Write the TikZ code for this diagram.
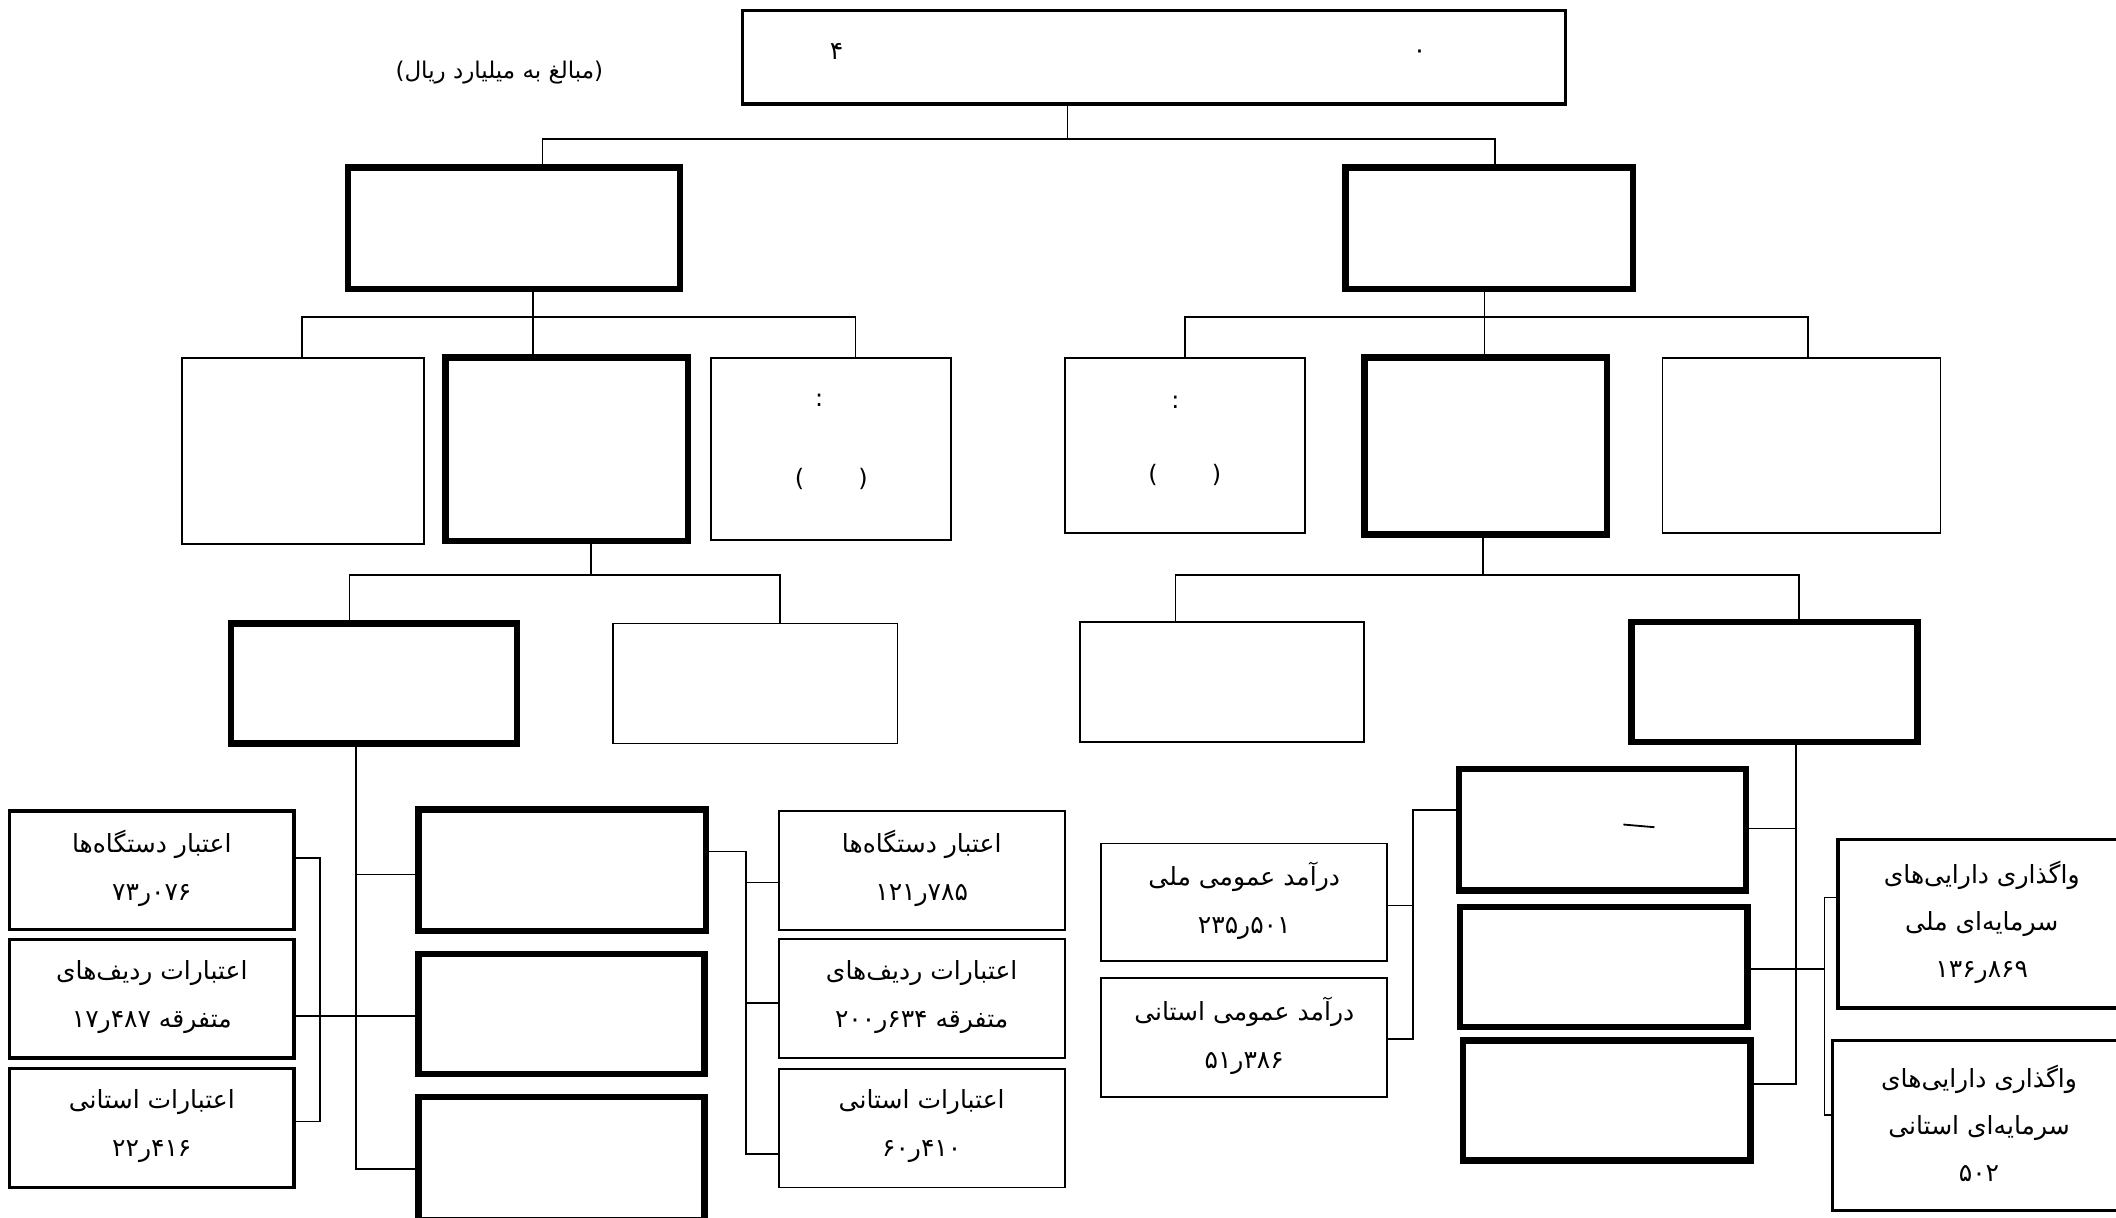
\documentclass[tikz,border=0pt]{standalone}
\usepackage{fontspec}
\usetikzlibrary{fit}
\TeXXeTstate=1
\newfontfamily\arabicfont[Script=Arabic]{DejaVu Sans}
\newfontfamily\plainsans{DejaVu Sans}
\newcommand{\pn}[2]{\beginL #1\kern0pt ر\kern0pt #2\endL}
\tikzset{
  box/.style={draw, inner sep=0pt, line width=0.9pt},
  thickbox/.style={box, line width=3.2pt},
  medbox/.style={box, line width=1.7pt},
  conn/.style={line width=0.9pt},
  txt/.style={inner sep=0pt, align=center, yshift=0.9pt,
    font=\arabicfont\fontsize{12.5}{24}\selectfont},
  lbl/.style={inner sep=0pt, font=\arabicfont\fontsize{12.5}{15}\selectfont},
  sym/.style={inner sep=0pt, font=\plainsans\fontsize{12}{15}\selectfont},
}
\begin{document}
\begin{tikzpicture}[x=0.67475pt, y=-0.67475pt]
\useasboundingbox (0,0) rectangle (1568,902);
\clip (0,0) rectangle (1568,902);

% top
\node[medbox, fit={(550,8) (1160,77)}] (top) {};
\node[lbl] (topfour) at (620,38) {۴};
\node[lbl] (topdot) at (1052,40) {۰};
\node[lbl, font=\arabicfont\fontsize{11.5}{14}\selectfont] (unit) at (370,54)
  {{\plainsans(}\beginR مبالغ به میلیارد ریال\endR{\plainsans)}};

% level 1
\node[thickbox, fit={(258,124) (504,214)}] (LA) {};
\node[thickbox, fit={(997,124) (1210,214)}] (RA) {};

% level 2 left
\node[box, fit={(135,265) (314,403)}] (L2a) {};
\node[thickbox, fit={(330,265) (510,401)}] (L2b) {};
\node[box, fit={(527,265) (705,400)}] (L2c) {};
\node[sym] (L2ccolon) at (607,297) {:};
\node[sym] (L2cpar) at (616,355) {(\hspace{27pt})};

% level 2 right
\node[box, fit={(789,265) (967,395)}] (R2a) {};
\node[sym] (R2acolon) at (871,298) {:};
\node[sym] (R2apar) at (878,352) {(\hspace{27pt})};
\node[thickbox, fit={(1011,265) (1191,396)}] (R2b) {};
\node[box, fit={(1232,265) (1438,395)}] (R2c) {};

% level 3
\node[thickbox, fit={(171,462) (383,551)}] (L3a) {};
\node[box, fit={(454,462) (665,551)}] (L3b) {};
\node[box, fit={(800,461) (1011,550)}] (R3a) {};
\node[thickbox, fit={(1209,461) (1421,550)}] (R3b) {};

% left-bottom group
\node[thickbox, fit={(310,600) (523,690)}] (F1) {};
\node[thickbox, fit={(310,707) (522,796)}] (F2) {};
\node[thickbox, fit={(310,813) (522,904)}] (F3) {};

\node[medbox, fit={(7,601) (218,689)}] (LL1) {};
\node[txt] (LL1t) at (LL1.center) {\beginR اعتبار دستگاه‌ها\endR\\ \pn{۷۳}{۰۷۶}};
\node[medbox, fit={(7,696) (218,784)}] (LL2) {};
\node[txt] (LL2t) at (LL2.center) {\beginR اعتبارات ردیف‌های\endR\\ \beginR متفرقه \pn{۱۷}{۴۸۷}\endR};
\node[medbox, fit={(7,792) (218,880)}] (LL3) {};
\node[txt] (LL3t) at (LL3.center) {\beginR اعتبارات استانی\endR\\ \pn{۲۲}{۴۱۶}};

\node[box, fit={(577,601) (789,689)}] (RL1) {};
\node[txt] (RL1t) at (RL1.center) {\beginR اعتبار دستگاه‌ها\endR\\ \pn{۱۲۱}{۷۸۵}};
\node[box, fit={(577,696) (789,784)}] (RL2) {};
\node[txt] (RL2t) at (RL2.center) {\beginR اعتبارات ردیف‌های\endR\\ \beginR متفرقه \pn{۲۰۰}{۶۳۴}\endR};
\node[box, fit={(577,792) (789,880)}] (RL3) {};
\node[txt] (RL3t) at (RL3.center) {\beginR اعتبارات استانی\endR\\ \pn{۶۰}{۴۱۰}};

% right-bottom group
\node[thickbox, fit={(1081,570) (1294,660)}] (M1) {};
\node[thickbox, fit={(1082,672) (1295,761)}] (M2) {};
\node[thickbox, fit={(1084,771) (1297,860)}] (M3) {};

\node[box, fit={(816,625) (1028,712)}] (N1) {};
\node[txt] (N1t) at (N1.center) {\beginR درآمد عمومی ملی\endR\\ \pn{۲۳۵}{۵۰۱}};
\node[box, fit={(816,725) (1028,813)}] (N2) {};
\node[txt] (N2t) at (N2.center) {\beginR درآمد عمومی استانی\endR\\ \pn{۵۱}{۳۸۶}};

\node[medbox, fit={(1362,622) (1575,747)}] (P1) {};
\node[txt, font=\arabicfont\fontsize{12.5}{23.5}\selectfont] (P1t) at (P1.center)
  {\beginR واگذاری دارایی‌های\endR\\ \beginR سرمایه‌ای ملی\endR\\ \pn{۱۳۶}{۸۶۹}};
\node[medbox, fit={(1358,771) (1575,897)}] (P2) {};
\node[txt, font=\arabicfont\fontsize{12.5}{23.5}\selectfont] (P2t) at (P2.center)
  {\beginR واگذاری دارایی‌های\endR\\ \beginR سرمایه‌ای استانی\endR\\ ۵۰۲};

\draw[line width=0.9pt] (1203,611) -- (1226,613);

% ---------- connectors
% top
\coordinate (jt) at (791,103);
\coordinate (jtl) at (402,103);
\coordinate (jtr) at (1108,103);
\draw[conn] (top.south -| jt) -- (jt);
\draw[conn] (LA.north -| jtl) -- (jtl) -- (jtr) -- (RA.north -| jtr);

% left level 2
\coordinate (jl) at (395,235);
\coordinate (jll) at (224,235);
\coordinate (jlr) at (634,235);
\draw[conn] (LA.south -| jl) -- (L2b.north -| jl);
\draw[conn] (L2a.north -| jll) -- (jll) -- (jlr) -- (L2c.north -| jlr);

% left level 3
\coordinate (jm) at (438,426);
\coordinate (jml) at (259,426);
\coordinate (jmr) at (578,426);
\draw[conn] (L2b.south -| jm) -- (jm);
\draw[conn] (L3a.north -| jml) -- (jml) -- (jmr) -- (L3b.north -| jmr);

% left F group
\coordinate (jf) at (264,866);
\coordinate (jf1) at (264,648);
\coordinate (jf2) at (264,753);
\draw[conn] (L3a.south -| jf) -- (jf) -- (F3.west |- jf);
\draw[conn] (jf1) -- (F1.west |- jf1);
\draw[conn] (LL2.east |- jf2) -- (F2.west |- jf2);
\coordinate (jb1) at (237,636);
\coordinate (jb2) at (237,831);
\draw[conn] (LL1.east |- jb1) -- (jb1) -- (jb2) -- (LL3.east |- jb2);

\coordinate (jr0) at (553,631);
\coordinate (jr1) at (553,654);
\coordinate (jr2) at (553,743);
\coordinate (jr3) at (553,855);
\draw[conn] (F1.east |- jr0) -- (jr0) -- (jr3) -- (RL3.west |- jr3);
\draw[conn] (jr1) -- (RL1.west |- jr1);
\draw[conn] (jr2) -- (RL2.west |- jr2);

% right level 2
\coordinate (jR) at (1100,235);
\coordinate (jRl) at (878,235);
\coordinate (jRr) at (1340,235);
\draw[conn] (RA.south -| jR) -- (R2b.north -| jR);
\draw[conn] (R2a.north -| jRl) -- (jRl) -- (jRr) -- (R2c.north -| jRr);

% right level 3
\coordinate (jS) at (1099,426);
\coordinate (jSl) at (871,426);
\coordinate (jSr) at (1333,426);
\draw[conn] (R2b.south -| jS) -- (jS);
\draw[conn] (R3a.north -| jSl) -- (jSl) -- (jSr) -- (R3b.north -| jSr);

% right M group
\coordinate (jk1) at (1331,614);
\coordinate (jk3) at (1331,803);
\draw[conn] (R3b.south -| jk3) -- (jk3) -- (M3.east |- jk3);
\draw[conn] (jk1) -- (M1.east |- jk1);
\coordinate (jq) at (1352,718);
\coordinate (jq1) at (1352,665);
\coordinate (jq2) at (1352,826);
\draw[conn] (M2.east |- jq) -- (jq);
\draw[conn] (P1.west |- jq1) -- (jq1) -- (jq2) -- (P2.west |- jq2);

\coordinate (jn0) at (1047,600);
\coordinate (jn1) at (1047,671);
\coordinate (jn2) at (1047,770);
\draw[conn] (M1.west |- jn0) -- (jn0) -- (jn2) -- (N2.east |- jn2);
\draw[conn] (jn1) -- (N1.east |- jn1);
\end{tikzpicture}
\end{document}
